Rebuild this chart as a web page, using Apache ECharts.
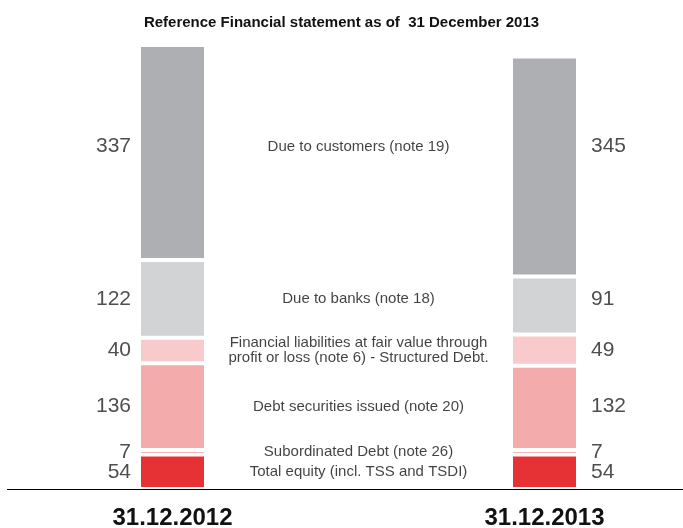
<!DOCTYPE html>
<html>
<head>
<meta charset="utf-8">
<title>chart</title>
<style>
  html, body { margin: 0; padding: 0; width: 100%; height: 100%; background: #fff; }
  #main { width: 683px; height: 528px; }
</style>
</head>
<body>
<div id="main"></div>
<script src="https://cdn.jsdelivr.net/npm/echarts@6/dist/echarts.min.js"></script>
<script>
// bottom to top
var categories = ['31.12.2012', '31.12.2013'];
var segments = [
  'Total equity (incl. TSS and TSDI)',
  'Subordinated Debt (note 26)',
  'Debt securities issued (note 20)',
  'Financial liabilities at fair value through\nprofit or loss (note 6) - Structured Debt.',
  'Due to banks (note 18)',
  'Due to customers (note 19)'
];
var values2012 = [54, 7, 136, 40, 122, 337];
var values2013 = [54, 7, 132, 49, 91, 345];
var colors = ['#e63234', '#ea6b6d', '#f3abac', '#f9cacb', '#d2d3d5', '#aeafb2'];

var font = 'Liberation Sans, Arial, sans-serif';
var myChart = echarts.init(document.getElementById('main'));

var series = [];
for (var i = 0; i < segments.length; i++) {
  series.push({
    type: 'bar',
    stack: 'total',
    barWidth: 67,
    silent: true,
    itemStyle: { color: colors[i], borderColor: '#fff', borderWidth: 2 },
    data: [values2012[i], values2013[i]]
  });
}

// row labels sit at the middle of the 2012 segments
var labelData = [];
var cum = 0;
for (var i = 0; i < segments.length; i++) {
  var mid = cum + values2012[i] / 2;
  cum += values2012[i];
  var off = (i === segments.length - 1) ? [0, -6] : [0, 0];
  labelData.push({
    value: [0, mid],
    label: { formatter: String(values2012[i]), position: 'left', distance: 9, fontSize: 21, color: '#222', offset: off }
  });
  labelData.push({
    value: [1, mid],
    label: { formatter: String(values2013[i]), position: 'right', distance: 14, fontSize: 21, color: '#222', offset: off }
  });
  labelData.push({
    value: [0.5, mid],
    label: { formatter: segments[i], position: 'inside', fontSize: 15, lineHeight: 15, color: '#111', offset: off }
  });
}
series.push({
  type: 'scatter',
  xAxisIndex: 1,
  yAxisIndex: 0,
  silent: true,
  symbol: 'rect',
  symbolSize: [65, 1],
  itemStyle: { color: 'rgba(0,0,0,0)' },
  label: { show: true, fontFamily: font },
  data: labelData
});

var option = {
  animation: false,
  backgroundColor: '#fff',
  title: {
    text: 'Reference Financial statement as of  31 December 2013',
    left: 'center',
    top: 10,
    textStyle: { fontFamily: font, fontSize: 15, fontWeight: 'bold', color: '#111' }
  },
  grid: { left: -13.5, width: 744, top: 42.4, bottom: 39, outerBoundsMode: 'none', containLabel: false },
  xAxis: [{
    type: 'category',
    data: categories,
    axisLine: { show: false },
    axisTick: { show: false },
    axisLabel: { margin: 17, fontFamily: font, fontSize: 24, fontWeight: 'bold', color: '#111' }
  }, {
    type: 'value',
    min: -0.5,
    max: 1.5,
    show: false
  }],
  yAxis: {
    type: 'value',
    min: 0,
    max: 700,
    show: false
  },
  graphic: [{
    type: 'line',
    shape: { x1: 7, y1: 489.5, x2: 683, y2: 489.5 },
    style: { stroke: '#000', lineWidth: 1 },
    silent: true
  }],
  series: series
};
myChart.setOption(option);
</script>
</body>
</html>
